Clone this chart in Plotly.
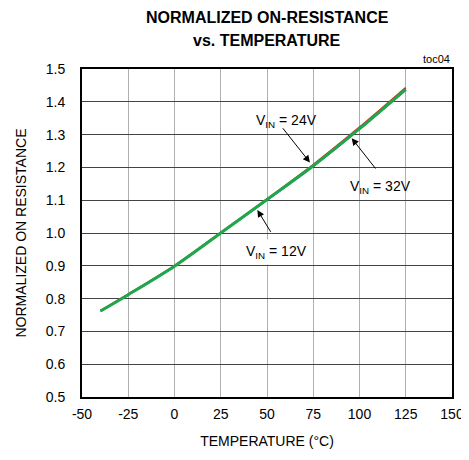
import plotly.graph_objects as go

temps = [-40, -25, 0, 25, 50, 75, 100, 125]
r_12v = [0.762, 0.812, 0.899, 1.000, 1.101, 1.204, 1.317, 1.437]
r_24v = [0.763, 0.813, 0.900, 1.001, 1.103, 1.208, 1.322, 1.443]
r_32v = [0.762, 0.812, 0.899, 1.000, 1.102, 1.205, 1.318, 1.438]

x_ticks = [-50, -25, 0, 25, 50, 75, 100, 125, 150]
y_ticks = [0.5, 0.6, 0.7, 0.8, 0.9, 1.0, 1.1, 1.2, 1.3, 1.4, 1.5]

FONT = "Liberation Sans, Arial"

fig = go.Figure()
fig.add_trace(go.Scatter(x=temps, y=r_12v, mode="lines", line=dict(color="#1a3fa8", width=2, shape="spline", smoothing=0.8), name="12V"))
fig.add_trace(go.Scatter(x=temps, y=r_24v, mode="lines", line=dict(color="#e0201b", width=2, shape="spline", smoothing=0.8), name="24V"))
fig.add_trace(go.Scatter(x=temps, y=r_32v, mode="lines", line=dict(color="#1fa84a", width=3, shape="spline", smoothing=0.8), name="32V"))

anns = []
for (hx, hy, tx, ty) in [(73.2, 1.215, 57.9, 1.324), (95.8, 1.289, 109.3, 1.192), (44.8, 1.070, 52.5, 0.999)]:
    anns.append(dict(x=hx, y=hy, ax=tx, ay=ty, xref="x", yref="y", axref="x", ayref="y",
                     text="", showarrow=True, arrowhead=2, arrowsize=1.4, arrowwidth=1, arrowcolor="black"))
anns.append(dict(x=60.3, y=1.341, text="V<sub>IN</sub> = 24V", showarrow=False, font=dict(size=14, color="black", family=FONT)))
anns.append(dict(x=111.1, y=1.140, text="V<sub>IN</sub> = 32V", showarrow=False, font=dict(size=14, color="black", family=FONT)))
anns.append(dict(x=54.9, y=0.942, text="V<sub>IN</sub> = 12V", showarrow=False, bgcolor="white", borderpad=3,
                 font=dict(size=14, color="black", family=FONT)))
anns.append(dict(x=1.0, y=1.0, xref="paper", yref="paper", xanchor="right", yanchor="bottom", yshift=2,
                 text="toc04", showarrow=False, font=dict(size=11, color="black", family=FONT)))
anns.append(dict(x=0.5, y=1.0, xref="paper", yref="paper", xanchor="center", yanchor="middle", yshift=52,
                 text="<b>NORMALIZED ON-RESISTANCE</b>", showarrow=False,
                 font=dict(size=16, color="black", family=FONT)))
anns.append(dict(x=0.5, y=1.0, xref="paper", yref="paper", xanchor="center", yanchor="middle", yshift=29,
                 text="<b>vs. TEMPERATURE</b>", showarrow=False,
                 font=dict(size=16, color="black", family=FONT)))

# page body has an 8px margin, so the figure is sized/offset to compensate
fig.update_layout(
    width=461, height=452,
    margin=dict(l=74, r=17, t=61, b=63),
    paper_bgcolor="white", plot_bgcolor="white",
    showlegend=False,
    font=dict(family=FONT, size=14, color="black"),
    annotations=anns,
)
fig.update_xaxes(range=[-50, 150], tickvals=x_ticks, ticktext=[str(v) for v in x_ticks],
                 showgrid=True, gridcolor="#b0b0b0", gridwidth=1, zeroline=False, automargin=False,
                 showline=True, linecolor="black", linewidth=2, mirror=True, ticks="", ticklabelstandoff=3,
                 title=dict(text="TEMPERATURE (°C)", font=dict(size=14, family=FONT), standoff=15))
fig.update_yaxes(range=[0.5, 1.5], tickvals=y_ticks, ticktext=[f"{v:.1f}" for v in y_ticks],
                 showgrid=True, gridcolor="#444444", gridwidth=1, zeroline=False, automargin=False,
                 showline=True, linecolor="black", linewidth=2, mirror=True, ticks="", ticklabelstandoff=12,
                 title=dict(text="NORMALIZED ON RESISTANCE", font=dict(size=14, family=FONT), standoff=16))

fig.write_html("out.html")
